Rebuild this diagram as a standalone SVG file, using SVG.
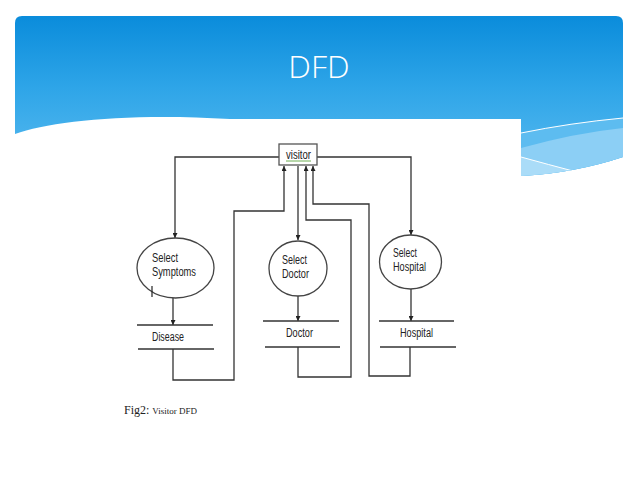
<svg xmlns="http://www.w3.org/2000/svg" width="638" height="479" viewBox="0 0 638 479">
<defs>
<linearGradient id="hdr" x1="0" y1="16" x2="0" y2="176" gradientUnits="userSpaceOnUse">
<stop offset="0" stop-color="#0a8cdb"/>
<stop offset="0.45" stop-color="#2ea5e8"/>
<stop offset="1" stop-color="#5cbcf0"/>
</linearGradient>
<clipPath id="hclip">
<path d="M15,23 Q15,16 22,16 L616,16 Q623,16 623,23 L623,157 Q575,173 521,176 L521,119 L230,119 C130,113 50,121 15,134 Z"/>
</clipPath>
<marker id="arr" viewBox="0 0 10 10" refX="10" refY="5" markerWidth="5" markerHeight="5" orient="auto" markerUnits="userSpaceOnUse">
<path d="M0,0 L10,5 L0,10 Z" fill="#222"/>
</marker>
<style>
.ln{fill:none;stroke:#333;stroke-width:1.3}
.bub{fill:#fff;stroke:#444;stroke-width:1.3}
.st{stroke:#333;stroke-width:1.4}
.lbl{font-family:"Liberation Sans",Arial,sans-serif;font-size:12px;fill:#222}
</style>
</defs>
<rect width="638" height="479" fill="#fff"/>
<g id="header">
<g clip-path="url(#hclip)">
<rect x="15" y="16" width="609" height="165" fill="url(#hdr)"/>
<path d="M521,133 Q570,123 623,118 L623,180 L521,180 Z" fill="#5dbcf0"/>
<path d="M521,148 Q575,133 623,128 L623,180 L521,180 Z" fill="#8ccff5"/>
<path d="M521,157 Q550,165 573,171 L623,171 L623,180 L521,180 Z" fill="#aadcf8"/>
<path d="M521,133 Q570,123 623,118" fill="none" stroke="#fff" stroke-width="1"/>
<path d="M521,157 Q550,165 573,171" fill="none" stroke="#fff" stroke-width="1"/>
</g>
<text x="319" y="78" text-anchor="middle" font-family="'Open Sans',sans-serif" font-weight="300" font-size="32" fill="#fff">DFD</text>
</g>
<g id="connectors">
<path class="ln" d="M279,157 H175 V238" marker-end="url(#arr)"/>
<path class="ln" d="M317,157 H411 V235" marker-end="url(#arr)"/>
<path class="ln" d="M298,166 V240" marker-end="url(#arr)"/>
<path class="ln" d="M173,349 V380 H234 V211 H284 V166" marker-end="url(#arr)"/>
<path class="ln" d="M298,347 V377 H351 V220 H306 V166" marker-end="url(#arr)"/>
<path class="ln" d="M410,347 V376 H369 V204 H313 V166" marker-end="url(#arr)"/>
<path class="ln" d="M173,298 V325" marker-end="url(#arr)"/>
<path class="ln" d="M298,296 V321" marker-end="url(#arr)"/>
<path class="ln" d="M411,289 V321" marker-end="url(#arr)"/>
</g>
<g id="visitor">
<rect x="279" y="144" width="38" height="21" fill="#fff" stroke="#555" stroke-width="1.3"/>
<text x="286" y="159" class="lbl" font-size="11" textLength="25" lengthAdjust="spacingAndGlyphs">visitor</text>
<line x1="286" y1="161" x2="311" y2="161" stroke="#6fae55" stroke-width="1"/>
</g>
<g id="select-symptoms">
<ellipse class="bub" cx="175.5" cy="268" rx="38.5" ry="30"/>
<text x="152" y="262" class="lbl" textLength="26" lengthAdjust="spacingAndGlyphs">Select</text>
<text x="152" y="276" class="lbl" textLength="44" lengthAdjust="spacingAndGlyphs">Symptoms</text>
<line x1="152" y1="286" x2="152" y2="297" stroke="#222" stroke-width="1.2"/>
</g>
<g id="select-doctor">
<ellipse class="bub" cx="298" cy="268.5" rx="29" ry="27.5"/>
<text x="282" y="264" class="lbl" textLength="25" lengthAdjust="spacingAndGlyphs">Select</text>
<text x="282" y="278" class="lbl" textLength="27" lengthAdjust="spacingAndGlyphs">Doctor</text>
</g>
<g id="select-hospital">
<ellipse class="bub" cx="410.5" cy="262" rx="31" ry="27"/>
<text x="393" y="257" class="lbl" textLength="24" lengthAdjust="spacingAndGlyphs">Select</text>
<text x="393" y="271" class="lbl" textLength="33" lengthAdjust="spacingAndGlyphs">Hospital</text>
</g>
<g id="store-disease">
<line class="st" x1="137" y1="325" x2="213" y2="325"/>
<line class="st" x1="138" y1="349" x2="214" y2="349"/>
<text x="152" y="341" class="lbl" textLength="32" lengthAdjust="spacingAndGlyphs">Disease</text>
</g>
<g id="store-doctor">
<line class="st" x1="263" y1="321" x2="339" y2="321"/>
<line class="st" x1="265" y1="347" x2="340" y2="347"/>
<text x="286" y="337" class="lbl" textLength="27" lengthAdjust="spacingAndGlyphs">Doctor</text>
</g>
<g id="store-hospital">
<line class="st" x1="379" y1="321" x2="454" y2="321"/>
<line class="st" x1="380" y1="347" x2="456" y2="347"/>
<text x="400" y="337" class="lbl" textLength="33" lengthAdjust="spacingAndGlyphs">Hospital</text>
</g>
<g id="caption">
<text x="124" y="414" font-family="'Liberation Serif','Times New Roman',serif" font-size="12" fill="#222">Fig2: <tspan font-size="9">Visitor DFD</tspan></text>
</g>
</svg>
